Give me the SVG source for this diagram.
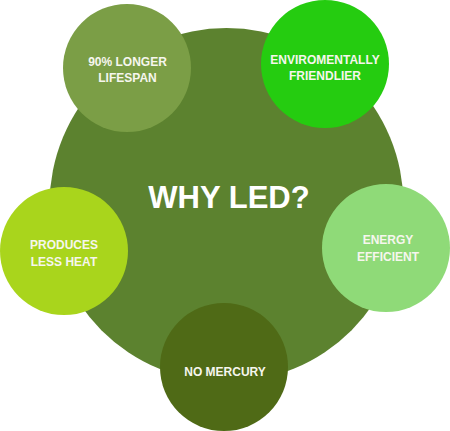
<svg xmlns="http://www.w3.org/2000/svg" width="450" height="431" viewBox="0 0 450 431">
<style>
text{font-family:"Liberation Sans",Arial,sans-serif;fill:#f6f6ee;text-anchor:middle;font-weight:bold}
.s{font-size:12px}
.t{font-size:31px;fill:#ffffff}
</style>
<rect width="450" height="431" fill="#ffffff"/>
<g id="center">
<circle cx="226.5" cy="205" r="177" fill="#5c822f"/>
<text class="t" x="229" y="208">WHY LED?</text>
</g>
<g id="lifespan">
<circle cx="127" cy="68" r="64" fill="#7b9e46"/>
<text class="s" x="127.5" y="66">90% LONGER</text>
<text class="s" x="127.5" y="82">LIFESPAN</text>
</g>
<g id="enviro">
<circle cx="325" cy="64" r="64" fill="#25cc10"/>
<text class="s" x="325" y="64">ENVIROMENTALLY</text>
<text class="s" x="325" y="80">FRIENDLIER</text>
</g>
<g id="heat">
<circle cx="64" cy="251" r="64" fill="#a9d51c"/>
<text class="s" x="64" y="249">PRODUCES</text>
<text class="s" x="64" y="266">LESS HEAT</text>
</g>
<g id="energy">
<circle cx="386" cy="248" r="64" fill="#8fda78"/>
<text class="s" x="388" y="244">ENERGY</text>
<text class="s" x="388" y="261">EFFICIENT</text>
</g>
<g id="mercury">
<circle cx="224" cy="367" r="64" fill="#4f6a16"/>
<text class="s" x="225" y="376">NO MERCURY</text>
</g>
<g id="connectors"/>
</svg>
